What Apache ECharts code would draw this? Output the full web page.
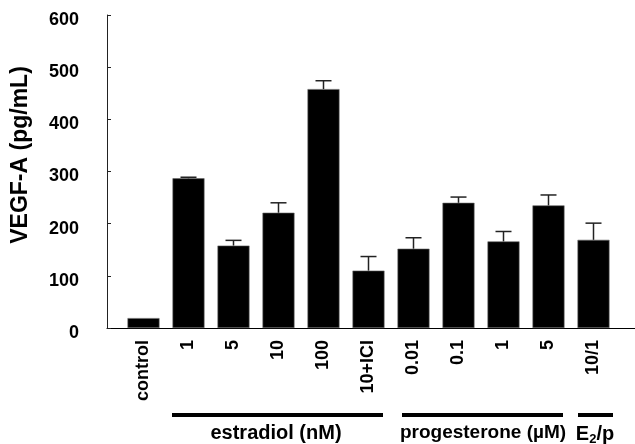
<!DOCTYPE html>
<html>
<head>
<meta charset="utf-8">
<script src="https://cdn.jsdelivr.net/npm/echarts@6/dist/echarts.min.js"></script>
<style>html,body{margin:0;padding:0;background:#fff}#c{width:635px;height:444px}</style>
</head>
<body>
<div id="c"></div>
<script>
var categories = ['control','1','5','10','100','10+ICI','0.01','0.1','1','5','10/1'];
var vegfValues = [19, 287, 158, 221, 458, 110, 152, 240, 166, 235, 169];
var vegfErrors = [0, 2, 10, 19, 16, 27, 21, 11, 19, 20, 32];
var yTicks = [0, 100, 200, 300, 400, 500, 600];
var yTitle = 'VEGF-A (pg/mL)';
var groupLabels = ['estradiol (nM)', 'progesterone (\u00b5M)', '{b|E}{s|2}{b|/p}'];

var FONT = '"Liberation Sans", Arial, sans-serif';
var chart = echarts.init(document.getElementById('c'), null, {renderer: 'canvas'});

var errData = vegfValues.map(function (v, i) { return [i, v, vegfErrors[i]]; });

var option = {
  animation: false,
  backgroundColor: '#fff',
  grid: [
    {left: 121, right: 19, top: 15, bottom: 116},
    {left: 107, right: 0, top: 15, bottom: 116}
  ],
  xAxis: [
    {
      type: 'category', gridIndex: 0, data: categories,
      axisLine: {show: false}, axisTick: {show: false},
      axisLabel: {rotate: 90, margin: 12, interval: 0, fontFamily: FONT, fontWeight: 'bold', fontSize: 18, color: '#000'}
    },
    {
      type: 'value', gridIndex: 1, min: 0, max: 1,
      axisLine: {show: true, lineStyle: {color: '#000', width: 1}},
      axisTick: {show: false}, axisLabel: {show: false}, splitLine: {show: false}
    }
  ],
  yAxis: [
    {
      type: 'value', gridIndex: 0, min: yTicks[0], max: yTicks[yTicks.length - 1], interval: 100,
      show: false
    },
    {
      type: 'value', gridIndex: 1, min: yTicks[0], max: yTicks[yTicks.length - 1], interval: 100,
      axisLine: {show: true, lineStyle: {color: '#222', width: 1}},
      axisTick: {show: true, inside: true, length: 4, lineStyle: {color: '#222'}},
      splitLine: {show: false},
      axisLabel: {margin: 28, fontFamily: FONT, fontWeight: 'bold', fontSize: 18, color: '#000', verticalAlign: 'top', lineHeight: 10}
    }
  ],
  series: [
    {
      type: 'bar', xAxisIndex: 0, yAxisIndex: 0, data: vegfValues,
      barWidth: 32,
      itemStyle: {color: '#000', borderColor: '#666', borderWidth: 0.6}
    },
    {
      type: 'custom', xAxisIndex: 0, yAxisIndex: 0, data: errData, z: 3,
      renderItem: function (params, api) {
        var err = api.value(2);
        if (!err) return null;
        var base = api.coord([api.value(0), api.value(1)]);
        var top = api.coord([api.value(0), api.value(1) + err]);
        var half = 8;
        var st = {stroke: '#222', lineWidth: 1.5};
        return {
          type: 'group',
          children: [
            {type: 'line', shape: {x1: base[0], y1: base[1], x2: top[0], y2: top[1]}, style: st},
            {type: 'line', shape: {x1: top[0] - half, y1: top[1], x2: top[0] + half, y2: top[1]}, style: st}
          ]
        };
      }
    }
  ],
  graphic: [
    {type: 'text', x: 21, y: 155, rotation: Math.PI / 2,
      style: {text: yTitle, fontFamily: FONT, fontWeight: 'bold', fontSize: 23, fill: '#000', align: 'center', verticalAlign: 'middle'}},
    {type: 'rect', shape: {x: 172, y: 413, width: 211, height: 4}, style: {fill: '#000'}},
    {type: 'rect', shape: {x: 402, y: 413, width: 161, height: 4}, style: {fill: '#000'}},
    {type: 'rect', shape: {x: 578, y: 413, width: 35, height: 4}, style: {fill: '#000'}},
    {type: 'text', x: 276, y: 433,
      style: {text: groupLabels[0], fontFamily: FONT, fontWeight: 'bold', fontSize: 20, fill: '#000', align: 'center', verticalAlign: 'middle'}},
    {type: 'text', x: 483, y: 433,
      style: {text: groupLabels[1], fontFamily: FONT, fontWeight: 'bold', fontSize: 19, fill: '#000', align: 'center', verticalAlign: 'middle'}},
    {type: 'text', x: 595, y: 435,
      style: {text: groupLabels[2], fontFamily: FONT, fontWeight: 'bold', fontSize: 20, fill: '#000', align: 'center', verticalAlign: 'middle',
        rich: {
          b: {fontFamily: FONT, fontWeight: 'bold', fontSize: 20, fill: '#000', verticalAlign: 'top', lineHeight: 22},
          s: {fontFamily: FONT, fontWeight: 'bold', fontSize: 13, fill: '#000', verticalAlign: 'bottom', lineHeight: 12}
        }}}
  ]
};
chart.setOption(option);
</script>
</body>
</html>
